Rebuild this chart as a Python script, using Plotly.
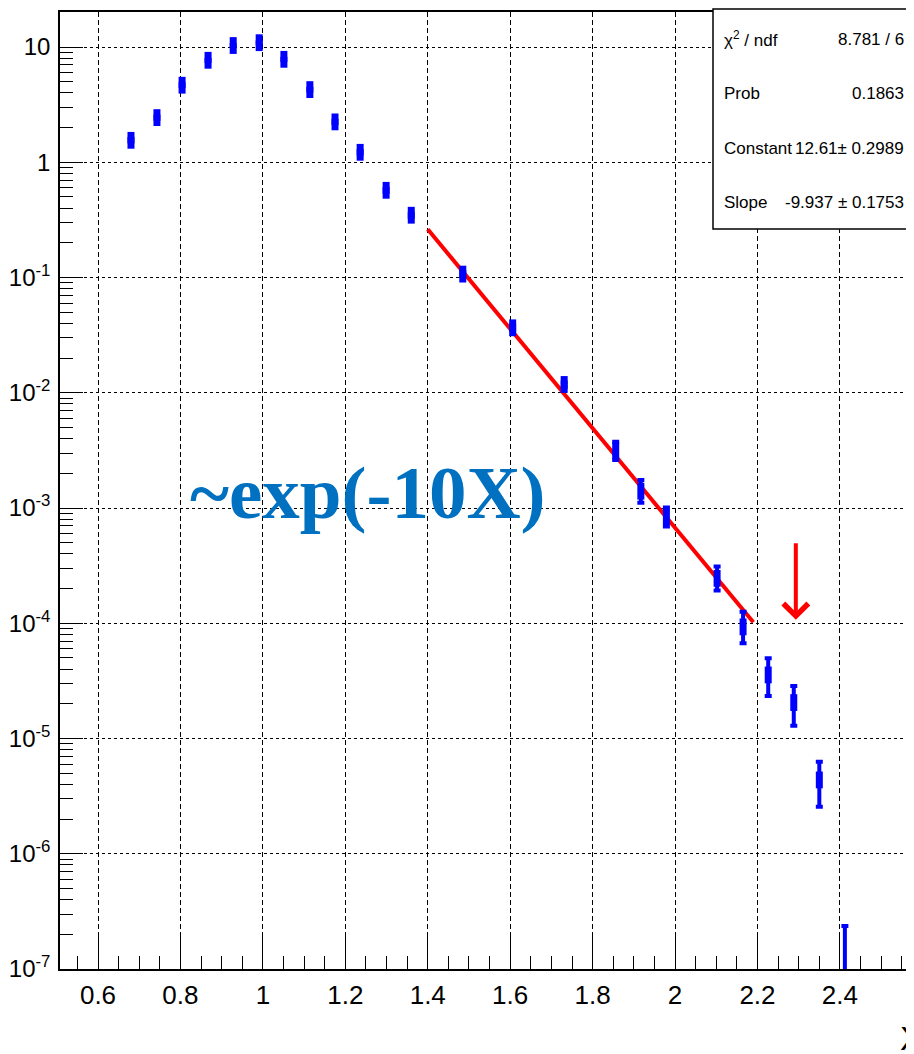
import plotly.graph_objects as go
import numpy as np

# ---- data ----
x_vals = [0.680, 0.743, 0.804, 0.867, 0.928, 0.991, 1.051, 1.114, 1.175, 1.236, 1.299, 1.360,
          1.485, 1.606, 1.731, 1.856, 1.917, 1.979, 2.102, 2.165, 2.226, 2.288, 2.350, 2.412]
y_vals = [1.55, 2.44, 4.66, 7.67, 10.3, 10.9, 7.82, 4.27, 2.24, 1.22, 0.571, 0.347,
          0.107, 0.0366, 0.0118, 3.14e-3, 1.40e-3, 8.4e-4, 2.45e-4, 9.3e-5, 3.56e-5, 2.05e-5, 4.37e-6, 8e-8]
err_plus = [0.04, 0.05, 0.08, 0.1, 0.12, 0.12, 0.1, 0.08, 0.05, 0.03, 0.015, 0.01,
            0.004, 0.0015, 0.0005, 6.2e-4, 3.5e-4, 1.7e-4, 6.5e-5, 3.3e-5, 1.41e-5, 8.1e-6, 1.93e-6, 1.56e-7]
err_minus = [0.04, 0.05, 0.08, 0.1, 0.12, 0.12, 0.1, 0.08, 0.05, 0.03, 0.015, 0.01,
             0.004, 0.0015, 0.0005, 5.3e-4, 2.9e-4, 1.5e-4, 5.3e-5, 2.6e-5, 1.22e-5, 7.6e-6, 1.81e-6, 7.9e-8]

fit_x = [1.40, 2.19]
fit_y = [0.262, 1.02e-4]

y_tickvals = [1e-7, 1e-6, 1e-5, 1e-4, 1e-3, 1e-2, 1e-1, 1, 10]
y_ticktext = ["10<sup>-7</sup>", "10<sup>-6</sup>", "10<sup>-5</sup>", "10<sup>-4</sup>",
              "10<sup>-3</sup>", "10<sup>-2</sup>", "10<sup>-1</sup>", "1", "10"]

stat_labels = ["χ<sup>2</sup> / ndf", "Prob", "Constant", "Slope"]
stat_values = ["8.781 / 6", "0.1863", "12.61± 0.2989", "-9.937 ± 0.1753"]

arrow_x = 2.293
arrow_y = 1.07e-4

FONT = "Liberation Sans, Arial, sans-serif"

# page is shown with an 8px body margin, so the figure is 8px smaller and offset
OFF = 8
W, H = 914 - OFF, 1054 - OFF
PLOT_L, PLOT_T, PLOT_R, PLOT_B = 60, 12, 914, 969   # page pixels of the plot frame
L, T = PLOT_L - OFF, PLOT_T - OFF
R = 914 - PLOT_R
B = 1054 - PLOT_B
PW, PH = PLOT_R - PLOT_L, PLOT_B - PLOT_T


def px_x(p):
    return (p - PLOT_L) / PW


def px_y(p):
    return (PLOT_B - p) / PH


fig = go.Figure()

fig.add_trace(go.Scatter(
    x=fit_x, y=fit_y, mode="lines",
    line=dict(color="#ff0000", width=4),
    showlegend=False, hoverinfo="skip"))

fig.add_trace(go.Scatter(
    x=x_vals, y=y_vals, mode="markers",
    marker=dict(symbol="line-ns", size=12, color="#0000ff",
                line=dict(width=7, color="#0000ff")),
    error_y=dict(type="data", symmetric=False, array=err_plus, arrayminus=err_minus,
                 color="#0000ff", thickness=4, width=3.5),
    showlegend=False))

fig.update_layout(
    width=W, height=H, autosize=False,
    margin=dict(l=L, r=R, t=T, b=B, pad=0, autoexpand=False),
    paper_bgcolor="white", plot_bgcolor="white",
    font=dict(family=FONT, color="black"),
    xaxis=dict(
        range=[0.5078, 2.5797], showline=True, linecolor="black", linewidth=1.5, mirror=True,
        tick0=0.6, dtick=0.2, ticks="inside", ticklen=32, tickwidth=1.2, tickcolor="black",
        minor=dict(dtick=0.05, tick0=0.6, ticks="inside", ticklen=13, tickwidth=1.2, tickcolor="black",
                   showgrid=False),
        showgrid=True, gridcolor="black", gridwidth=1, griddash="5px,3px",
        tickfont=dict(size=26, family=FONT), ticklabelstandoff=2,
        zeroline=False, automargin=False),
    yaxis=dict(
        type="log", range=[-7, 1.3037], showline=True, linecolor="black", linewidth=1.5,
        tickmode="array", tickvals=y_tickvals, ticktext=y_ticktext,
        ticks="inside", ticklen=23, tickwidth=1.2, tickcolor="black",
        minor=dict(dtick="D1", ticks="inside", ticklen=13, tickwidth=1.2, tickcolor="black",
                   showgrid=False),
        showgrid=True, gridcolor="black", gridwidth=1, griddash="3px,3px",
        tickfont=dict(size=24, family=FONT), ticklabelstandoff=3,
        zeroline=False, automargin=False),
)

# stats box
fig.add_shape(type="rect", xref="paper", yref="paper",
              x0=px_x(713), x1=px_x(925), y0=px_y(229), y1=px_y(9),
              line=dict(color="black", width=1.5), fillcolor="white", layer="above")

row_y = [39, 93, 148, 203]
for lab, val, ry in zip(stat_labels, stat_values, row_y):
    fig.add_annotation(xref="paper", yref="paper", x=px_x(722), y=px_y(ry),
                       text=lab, showarrow=False, xanchor="left", yanchor="middle",
                       font=dict(size=17, family=FONT, color="black"))
    fig.add_annotation(xref="paper", yref="paper", x=px_x(906), y=px_y(ry),
                       text=val, showarrow=False, xanchor="right", yanchor="middle",
                       font=dict(size=17, family=FONT, color="black"))

# big blue text
fig.add_annotation(xref="paper", yref="paper", x=px_x(368), y=px_y(493),
                   text="<b>~exp(-10X)</b>", showarrow=False,
                   xanchor="center", yanchor="middle",
                   font=dict(size=75, family="Liberation Serif, Times New Roman, serif", color="#0070C0"))

# red arrow
fig.add_annotation(x=arrow_x, y=np.log10(arrow_y), xref="x", yref="y",
                   ax=0, ay=-78, axref="pixel", ayref="pixel",
                   text="", showarrow=True, arrowhead=4, arrowsize=1.2, arrowwidth=4,
                   arrowcolor="#ff0000", standoff=0)

# axis title X (partly cut by the right edge, as in the reference)
fig.add_annotation(xref="paper", yref="paper", x=px_x(898), y=px_y(1038),
                   text="X", showarrow=False, xanchor="left", yanchor="middle",
                   font=dict(size=34, family=FONT, color="black"))

fig.write_html("out.html")
